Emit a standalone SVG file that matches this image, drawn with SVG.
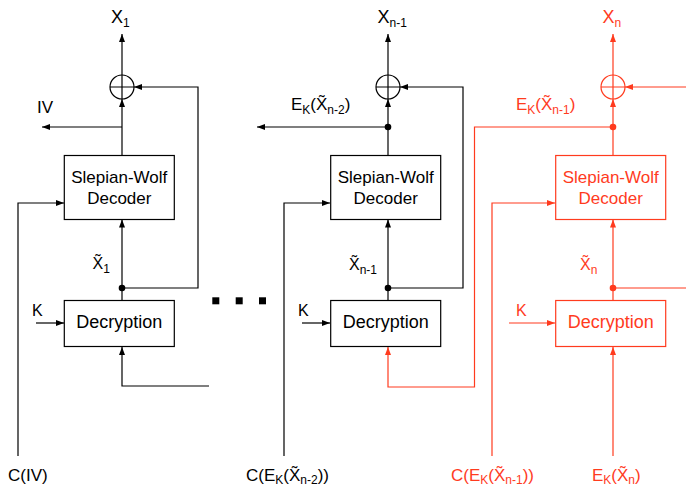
<svg xmlns="http://www.w3.org/2000/svg" width="686" height="488" viewBox="0 0 686 488">
<style>
text{font-family:"Liberation Sans",Arial,sans-serif;font-size:17px;fill:#000}
.r text,text.r{fill:#ff3b1e}
.box{fill:#fff;stroke:#000;stroke-width:1.2}
.r .box{stroke:#ff3b1e}
.ln{fill:none;stroke:#000;stroke-width:1.2}
.lr{fill:none;stroke:#ff3b1e;stroke-width:1.2}
.dt{fill:#000}
.dr{fill:#ff3b1e}
.bt{text-anchor:middle}
.sub{font-size:12px}
</style>
<defs>
<marker id="a" viewBox="0 0 8 6" refX="8" refY="3" markerWidth="8" markerHeight="6" markerUnits="userSpaceOnUse" orient="auto"><path d="M0,0L8,3L0,6z" fill="#000"/></marker>
<marker id="ar" viewBox="0 0 8 6" refX="8" refY="3" markerWidth="8" markerHeight="6" markerUnits="userSpaceOnUse" orient="auto"><path d="M0,0L8,3L0,6z" fill="#ff3b1e"/></marker>
</defs>

<g id="connectors">
<!-- column 1 -->
<path class="ln" d="M122,75V34" marker-end="url(#a)"/>
<path class="ln" d="M122,155.5V99" marker-end="url(#a)"/>
<path class="ln" d="M122,127H42" marker-end="url(#a)"/>
<path class="ln" d="M122,300.5V219.5" marker-end="url(#a)"/>
<path class="ln" d="M122,288H198V87H134" marker-end="url(#a)"/>
<path class="ln" d="M18,456V203H64" marker-end="url(#a)"/>
<path class="ln" d="M36,323H64" marker-end="url(#a)"/>
<path class="ln" d="M209,386H122V347" marker-end="url(#a)"/>
<circle class="dt" cx="122" cy="288" r="3.3"/>
<!-- column 2 -->
<path class="ln" d="M388,75V34" marker-end="url(#a)"/>
<path class="ln" d="M388,155.5V99" marker-end="url(#a)"/>
<path class="ln" d="M388,127H257" marker-end="url(#a)"/>
<path class="ln" d="M388,300.5V219.5" marker-end="url(#a)"/>
<path class="ln" d="M388,288H463V87H400" marker-end="url(#a)"/>
<path class="ln" d="M284,456V203H330" marker-end="url(#a)"/>
<path class="ln" d="M302,323H330" marker-end="url(#a)"/>
<circle class="dt" cx="388" cy="127" r="3.3"/>
<circle class="dt" cx="388" cy="288" r="3.3"/>
<!-- red links -->
<path class="lr" d="M613,127H474.5V387H388V347" marker-end="url(#ar)"/>
<!-- column 3 -->
<path class="lr" d="M613,75V34" marker-end="url(#ar)"/>
<path class="lr" d="M613,155.5V99" marker-end="url(#ar)"/>
<path class="lr" d="M613,300.5V219.5" marker-end="url(#ar)"/>
<path class="lr" d="M613,288H686" stroke-width="1.6"/>
<path class="lr" d="M686,87H625" marker-end="url(#ar)"/>
<path class="lr" d="M492,456V203H555" marker-end="url(#ar)"/>
<path class="lr" d="M509,323H555" marker-end="url(#ar)"/>
<path class="lr" d="M613,456V347" marker-end="url(#ar)"/>
<circle class="dr" cx="613" cy="127" r="3.3"/>
<circle class="dr" cx="613" cy="288" r="3.3"/>
</g>

<!-- column 1 nodes -->
<g id="xor1"><circle class="ln" cx="122" cy="87" r="12"/><path class="ln" d="M110,87H134M122,75V99"/></g>
<g id="sw1"><rect class="box" x="64.3" y="155.5" width="110" height="64"/><text class="bt" x="119.3" y="183">Slepian-Wolf</text><text class="bt" x="119.3" y="204">Decoder</text></g>
<g id="dec1"><rect class="box" x="64.3" y="300.5" width="110" height="46"/><text class="bt" x="119.3" y="328" style="font-size:18px">Decryption</text></g>
<g id="lab1">
<text x="111" y="23" style="font-size:18px">X<tspan class="sub" dy="4">1</tspan></text>
<text x="37" y="113">IV</text>
<text x="92.5" y="268.5" style="font-size:16px">X&#x303;<tspan class="sub" dy="4">1</tspan></text>
<text x="32" y="316" style="font-size:16px">K</text>
<text x="8" y="481">C(IV)</text>
</g>

<!-- column 2 nodes -->
<g id="xor2"><circle class="ln" cx="388" cy="87" r="12"/><path class="ln" d="M376,87H400M388,75V99"/></g>
<g id="sw2"><rect class="box" x="330.7" y="155.5" width="110" height="64"/><text class="bt" x="385.7" y="183">Slepian-Wolf</text><text class="bt" x="385.7" y="204">Decoder</text></g>
<g id="dec2"><rect class="box" x="330.7" y="300.5" width="110" height="46"/><text class="bt" x="385.7" y="328" style="font-size:18px">Decryption</text></g>
<g id="lab2">
<text x="377.5" y="23" style="font-size:18px">X<tspan class="sub" dy="4">n-1</tspan></text>
<text x="291" y="110">E<tspan class="sub" dy="4">K</tspan><tspan dy="-4">(X&#x303;</tspan><tspan class="sub" dy="4">n-2</tspan><tspan dy="-4">)</tspan></text>
<text x="349" y="270" style="font-size:16px">X&#x303;<tspan class="sub" dy="4">n-1</tspan></text>
<text x="298" y="316" style="font-size:16px">K</text>
<text x="246" y="481">C(E<tspan class="sub" dy="3">K</tspan><tspan dy="-3">(X&#x303;</tspan><tspan class="sub" dy="3">n-2</tspan><tspan dy="-3">))</tspan></text>
</g>

<!-- dots -->
<g id="ellipsis"><rect x="212.3" y="297.3" width="7" height="7"/><rect x="235.7" y="297.3" width="7" height="7"/><rect x="259" y="297.3" width="7" height="7"/></g>

<!-- column 3 nodes -->
<g id="xor3" class="r"><circle class="lr" cx="613" cy="87" r="12"/><path class="lr" d="M601,87H625M613,75V99"/></g>
<g id="sw3" class="r"><rect class="box" x="555.7" y="155.5" width="110" height="64"/><text class="bt" x="610.7" y="183">Slepian-Wolf</text><text class="bt" x="610.7" y="204">Decoder</text></g>
<g id="dec3" class="r"><rect class="box" x="555.7" y="300.5" width="110" height="46"/><text class="bt" x="610.7" y="328" style="font-size:18px">Decryption</text></g>
<g id="lab3" class="r">
<text x="602.5" y="23" style="font-size:18px">X<tspan class="sub" dy="4">n</tspan></text>
<text x="516" y="110">E<tspan class="sub" dy="4">K</tspan><tspan dy="-4">(X&#x303;</tspan><tspan class="sub" dy="4">n-1</tspan><tspan dy="-4">)</tspan></text>
<text x="580" y="270" style="font-size:16px">X&#x303;<tspan class="sub" dy="4">n</tspan></text>
<text x="516" y="316" style="font-size:16px">K</text>
<text x="451" y="481">C(E<tspan class="sub" dy="3">K</tspan><tspan dy="-3">(X&#x303;</tspan><tspan class="sub" dy="3">n-1</tspan><tspan dy="-3">))</tspan></text>
<text x="592" y="481">E<tspan class="sub" dy="3">K</tspan><tspan dy="-3">(X&#x303;</tspan><tspan class="sub" dy="3">n</tspan><tspan dy="-3">)</tspan></text>
</g>
</svg>
